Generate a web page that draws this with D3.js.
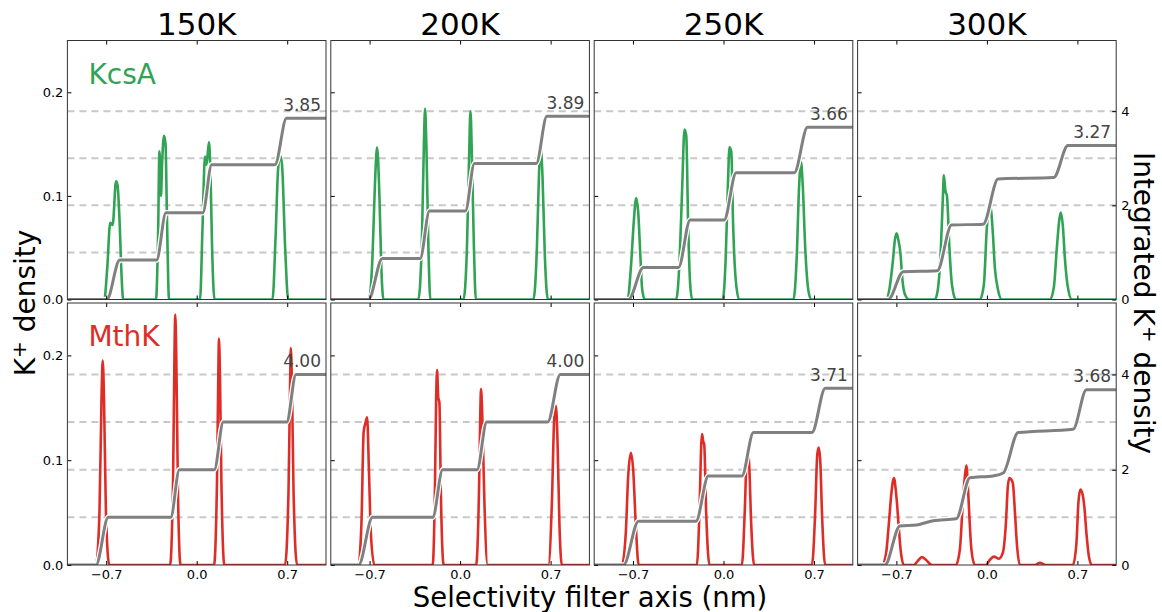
<!DOCTYPE html>
<html><head><meta charset="utf-8">
<script src="https://cdn.jsdelivr.net/npm/d3@7"></script>
<style>body{margin:0;background:#fff} svg{display:block;font-family:"DejaVu Sans",sans-serif}</style>
</head><body><svg id="chart" width="1162" height="612"></svg>
<script>
// ---------- data ----------
const temperatures = ["150K", "200K", "250K", "300K"];
const channels = ["KcsA", "MthK"];
const xTicks = [-0.7, 0.0, 0.7];
const densityTicks = [0.0, 0.1, 0.2];
const integratedTicks = [0, 2, 4];
const gridLevels = [1, 2, 3, 4];
const kcsaTotals = [3.85, 3.89, 3.66, 3.27];
const mthkTotals = [4.00, 4.00, 3.71, 3.68];

// K+ density along the filter axis: [position (nm), density]
const kcsa150Density = [[-1,0],[-0.715,0],[-0.692,0.03],[-0.669,0.074],[-0.650,0.072],[-0.624,0.114],[-0.612,0.11],[-0.598,0.08],[-0.580,0.02],[-0.569,0],
  [-0.315,0],[-0.299,0.06],[-0.288,0.143],[-0.276,0.10],[-0.268,0.13],[-0.253,0.158],[-0.241,0.15],[-0.230,0.08],[-0.214,0],
  [0.026,0],[0.045,0.07],[0.064,0.138],[0.076,0.13],[0.095,0.152],[0.107,0.12],[0.119,0.05],[0.138,0],
  [0.586,0],[0.610,0.06],[0.629,0.125],[0.645,0.139],[0.660,0.13],[0.684,0.05],[0.708,0],[1,0]];
const kcsa200Density = [[-1,0],[-0.705,0],[-0.678,0.04],[-0.659,0.11],[-0.642,0.147],[-0.624,0.10],[-0.609,0.03],[-0.592,0],
  [-0.323,0],[-0.295,0.06],[-0.280,0.15],[-0.271,0.184],[-0.261,0.15],[-0.245,0.05],[-0.230,0],
  [0.026,0],[0.053,0.05],[0.070,0.14],[0.080,0.182],[0.091,0.14],[0.107,0.05],[0.122,0],
  [0.567,0],[0.594,0.05],[0.610,0.12],[0.621,0.148],[0.637,0.12],[0.656,0.04],[0.679,0],[1,0]];
const kcsa250Density = [[-1,0],[-0.742,0],[-0.714,0.035],[-0.694,0.075],[-0.675,0.098],[-0.660,0.085],[-0.644,0.045],[-0.629,0.01],[-0.609,0],
  [-0.366,0],[-0.339,0.04],[-0.319,0.11],[-0.302,0.164],[-0.288,0.158],[-0.273,0.07],[-0.258,0.015],[-0.242,0],
  [-0.006,0],[0.017,0.04],[0.034,0.11],[0.046,0.147],[0.060,0.143],[0.075,0.07],[0.094,0.02],[0.121,0],
  [0.541,0],[0.566,0.04],[0.585,0.11],[0.599,0.133],[0.613,0.11],[0.632,0.05],[0.655,0.01],[0.678,0],[1,0]];
const kcsa300Density = [[-1,0],[-0.781,0],[-0.754,0.01],[-0.729,0.035],[-0.711,0.058],[-0.698,0.064],[-0.684,0.057],[-0.669,0.045],[-0.654,0.02],[-0.634,0.005],[-0.603,0],
  [-0.402,0],[-0.379,0.01],[-0.356,0.05],[-0.340,0.10],[-0.333,0.12],[-0.321,0.105],[-0.309,0.10],[-0.290,0.05],[-0.271,0.015],[-0.240,0],
  [-0.054,0],[-0.023,0.015],[0.000,0.07],[0.015,0.085],[0.029,0.088],[0.043,0.07],[0.062,0.03],[0.085,0.01],[0.116,0],
  [0.487,0],[0.518,0.012],[0.541,0.05],[0.561,0.078],[0.572,0.084],[0.588,0.07],[0.603,0.04],[0.626,0.012],[0.657,0],[1,0]];
const mthk150Density = [[-1,0],[-0.779,0],[-0.752,0.05],[-0.736,0.16],[-0.727,0.195],[-0.717,0.16],[-0.702,0.05],[-0.676,0],
  [-0.206,0],[-0.183,0.08],[-0.172,0.2],[-0.166,0.239],[-0.158,0.2],[-0.145,0.07],[-0.125,0],
  [0.134,0],[0.157,0.08],[0.167,0.18],[0.172,0.216],[0.180,0.18],[0.191,0.08],[0.214,0],
  [0.683,0],[0.710,0.07],[0.722,0.17],[0.728,0.207],[0.737,0.17],[0.749,0.07],[0.776,0],[1,0]];
const mthk200Density = [[-1,0],[-0.787,0],[-0.763,0.04],[-0.746,0.127],[-0.733,0.135],[-0.719,0.141],[-0.705,0.09],[-0.690,0.03],[-0.663,0],
  [-0.212,0],[-0.195,0.07],[-0.185,0.16],[-0.178,0.186],[-0.169,0.16],[-0.160,0.155],[-0.149,0.07],[-0.127,0],
  [0.124,0],[0.146,0.07],[0.157,0.15],[0.162,0.168],[0.172,0.14],[0.188,0.06],[0.213,0],
  [0.683,0],[0.710,0.06],[0.728,0.14],[0.741,0.152],[0.753,0.12],[0.768,0.04],[0.787,0],[1,0]];
const mthk250Density = [[-1,0],[-0.786,0],[-0.756,0.03],[-0.737,0.085],[-0.716,0.107],[-0.698,0.09],[-0.679,0.04],[-0.656,0],
  [-0.206,0],[-0.184,0.06],[-0.172,0.115],[-0.166,0.125],[-0.157,0.118],[-0.149,0.115],[-0.134,0.05],[-0.108,0],
  [0.142,0],[0.164,0.05],[0.178,0.10],[0.187,0.111],[0.199,0.095],[0.214,0.04],[0.237,0],
  [0.684,0],[0.709,0.05],[0.725,0.105],[0.736,0.112],[0.748,0.10],[0.763,0.045],[0.786,0],[1,0]];
const mthk300Density = [[-1,0],[-0.812,0],[-0.781,0.01],[-0.758,0.04],[-0.739,0.068],[-0.727,0.08],[-0.717,0.083],[-0.708,0.075],[-0.696,0.06],[-0.681,0.035],[-0.665,0.012],[-0.642,0],
  [-0.565,0],[-0.534,0.004],[-0.503,0.0075],[-0.472,0.005],[-0.425,0],
  [-0.240,0],[-0.209,0.015],[-0.186,0.06],[-0.170,0.085],[-0.159,0.095],[-0.147,0.075],[-0.135,0.045],[-0.120,0.015],[-0.093,0],
  [-0.008,0],[0.023,0.005],[0.054,0.008],[0.093,0.006],[0.124,0.012],[0.147,0.04],[0.162,0.075],[0.174,0.083],[0.186,0.082],[0.201,0.078],[0.217,0.05],[0.232,0.02],[0.255,0],
  [0.371,0],[0.410,0.002],[0.456,0],
  [0.665,0],[0.692,0.02],[0.708,0.06],[0.723,0.072],[0.739,0.068],[0.754,0.055],[0.770,0.03],[0.789,0.008],[0.812,0],[1,0]];

// Integrated K+ count: [position (nm), integrated value]
const kcsa150Integrated = [[-1,0],[-0.695,0],[-0.595,0.84],[-0.310,0.84],[-0.238,1.84],[0.047,1.84],[0.116,2.86],[0.605,2.86],[0.695,3.85],[1,3.85]];
const kcsa200Integrated = [[-1,0],[-0.709,0],[-0.601,0.87],[-0.309,0.87],[-0.237,1.88],[0.041,1.88],[0.111,2.89],[0.589,2.89],[0.671,3.89],[1,3.89]];
const kcsa250Integrated = [[-1,0],[-0.735,0],[-0.619,0.68],[-0.348,0.68],[-0.258,1.69],[0.005,1.69],[0.098,2.69],[0.547,2.69],[0.650,3.66],[1,3.66]];
const kcsa300Integrated = [[-1,0],[-0.763,0],[-0.647,0.59],[-0.384,0.61],[-0.273,1.58],[-0.029,1.60],[0.087,2.56],[0.517,2.59],[0.627,3.27],[1,3.27]];
const mthk150Integrated = [[-1,0],[-0.779,0],[-0.684,1.0],[-0.201,1.0],[-0.134,2.0],[0.136,2.0],[0.206,3.0],[0.696,3.0],[0.768,4.0],[1,4.0]];
const mthk200Integrated = [[-1,0],[-0.785,0],[-0.677,1.0],[-0.212,1.0],[-0.135,2.0],[0.131,2.0],[0.206,3.0],[0.677,3.0],[0.775,4.0],[1,4.0]];
const mthk250Integrated = [[-1,0],[-0.773,0],[-0.657,0.92],[-0.213,0.92],[-0.117,1.87],[0.142,1.87],[0.232,2.78],[0.684,2.78],[0.787,3.71],[1,3.71]];
const mthk300Integrated = [[-1,0],[-0.789,0],[-0.673,0.82],[-0.545,0.84],[-0.415,0.93],[-0.237,0.97],[-0.131,1.83],[0.049,1.87],[0.126,1.93],[0.242,2.78],[0.667,2.85],[0.770,3.68],[1,3.68]];

const densities = [[kcsa150Density, kcsa200Density, kcsa250Density, kcsa300Density],
                   [mthk150Density, mthk200Density, mthk250Density, mthk300Density]];
const integrals = [[kcsa150Integrated, kcsa200Integrated, kcsa250Integrated, kcsa300Integrated],
                   [mthk150Integrated, mthk200Integrated, mthk250Integrated, mthk300Integrated]];
const totals = [kcsaTotals, mthkTotals];

// ---------- layout / style ----------
const colLeft = 67.4, colStep = 263.4, panelW = 258.6;
const rowTop = [40.5, 303], rowH = [259, 262];
const channelColors = ["#31a354", "#de2d26"];
const stepColor = "#808080";
const fmt1 = d3.format(".1f");

const svg = d3.select("#chart");
const defs = svg.append("defs");

for (let r = 0; r < 2; r++) {
  for (let c = 0; c < 4; c++) {
    const x0 = colLeft + c * colStep, y0 = rowTop[r], h = rowH[r];
    const x = d3.scaleLinear().domain([-1, 1]).range([0, panelW]);
    const y = d3.scaleLinear().domain([0, 0.25]).range([h, 0]);
    const yR = d3.scaleLinear().domain([0, 5.5]).range([h, 0]);
    const g = svg.append("g").attr("transform", `translate(${x0},${y0})`);
    const clipId = `clip-${r}-${c}`;
    defs.append("clipPath").attr("id", clipId).append("rect")
      .attr("x", 0).attr("y", 0).attr("width", panelW).attr("height", h);
    const plot = g.append("g").attr("clip-path", `url(#${clipId})`);

    // dashed reference levels
    plot.selectAll("line.grid").data(gridLevels).join("line")
      .attr("class", "grid")
      .attr("x1", 0).attr("x2", panelW)
      .attr("y1", d => yR(d)).attr("y2", d => yR(d))
      .attr("stroke", "#c8c8c8").attr("stroke-width", 2)
      .attr("stroke-dasharray", "7,5");

    // density
    const dLine = d3.line().x(d => x(d[0])).y(d => y(d[1])).curve(d3.curveMonotoneX);
    plot.append("path").datum(densities[r][c])
      .attr("d", dLine).attr("fill", "none")
      .attr("stroke", channelColors[r]).attr("stroke-width", 2.6)
      .attr("stroke-linejoin", "round");

    // integrated
    const iLine = d3.line().x(d => x(d[0])).y(d => yR(d[1])).curve(d3.curveMonotoneX);
    plot.append("path").datum(integrals[r][c])
      .attr("d", iLine).attr("fill", "none")
      .attr("stroke", "#fff").attr("stroke-width", 5.5);
    plot.append("path").datum(integrals[r][c])
      .attr("d", iLine).attr("fill", "none")
      .attr("stroke", stepColor).attr("stroke-width", 3);

    // total label
    const tot = totals[r][c];
    g.append("text")
      .attr("x", panelW - 5).attr("y", yR(tot) - 7.5)
      .attr("text-anchor", "end").attr("font-size", 17).attr("fill", "#444")
      .text(d3.format(".2f")(tot));

    // axes (ticks inward, matplotlib style)
    const left = d3.axisLeft(y).tickValues(densityTicks).tickSize(-4).tickPadding(4)
      .tickFormat(c === 0 ? fmt1 : () => "");
    const bottom = d3.axisBottom(x).tickValues(xTicks).tickSize(-4).tickPadding(5)
      .tickFormat(r === 1 ? fmt1 : () => "");
    const top = d3.axisTop(x).tickValues(xTicks).tickSize(-4).tickFormat(() => "");
    const axL = g.append("g").call(left);
    const axB = g.append("g").attr("transform", `translate(0,${h})`).call(bottom);
    const axT = g.append("g").call(top);
    const axes = [axL, axB, axT];
    if (c === 3) {
      const right = d3.axisRight(yR).tickValues(integratedTicks).tickSize(-4).tickPadding(5)
        .tickFormat(d3.format("d"));
      axes.push(g.append("g").attr("transform", `translate(${panelW},0)`).call(right));
    }
    axes.forEach(a => {
      a.select(".domain").remove();
      a.selectAll("line").attr("stroke", "#000");
      a.selectAll("text").attr("font-size", 13).attr("fill", "#000")
        .attr("font-family", "DejaVu Sans, sans-serif");
    });

    // frame
    g.append("rect").attr("x", 0).attr("y", 0).attr("width", panelW).attr("height", h)
      .attr("fill", "none").attr("stroke", "#333").attr("stroke-width", 1);

    // channel label
    if (c === 0) {
      g.append("text").attr("x", 21).attr("y", 43)
        .attr("font-size", 28).attr("fill", channelColors[r]).text(channels[r]);
    }
    // temperature title
    if (r === 0) {
      svg.append("text").attr("x", x0 + panelW / 2).attr("y", 34.5)
        .attr("text-anchor", "middle").attr("font-size", 31).attr("fill", "#000")
        .text(temperatures[c]);
    }
  }
}

// axis titles
svg.append("text").attr("x", 590).attr("y", 607).attr("text-anchor", "middle")
  .attr("font-size", 27.5).text("Selectivity filter axis (nm)");
const yl = svg.append("text").attr("transform", "translate(35,303) rotate(-90)")
  .attr("text-anchor", "middle").attr("font-size", 28);
yl.append("tspan").text("K");
yl.append("tspan").attr("baseline-shift", "45%").attr("font-size", 20).text("+");
yl.append("tspan").text(" density");
const yr = svg.append("text").attr("transform", "translate(1134,303) rotate(90)")
  .attr("text-anchor", "middle").attr("font-size", 28);
yr.append("tspan").text("Integrated K");
yr.append("tspan").attr("baseline-shift", "45%").attr("font-size", 20).text("+");
yr.append("tspan").text(" density");
</script></body></html>
